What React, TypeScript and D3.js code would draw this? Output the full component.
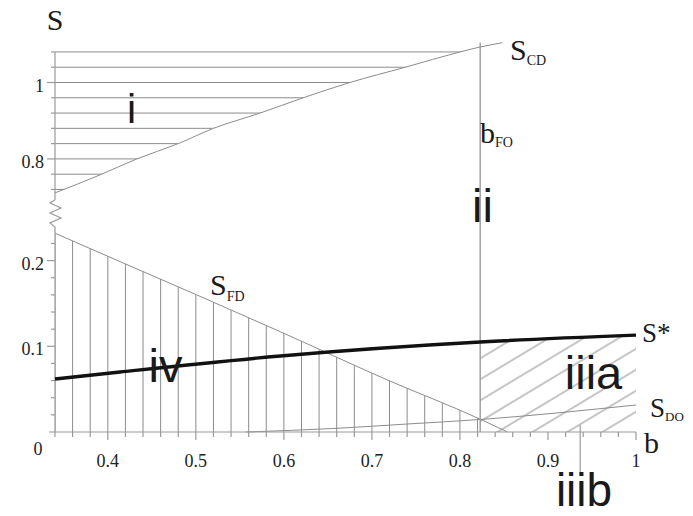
import * as d3 from "d3";
import { useEffect, useRef } from "react";

// boundary b_FO
const bFO = 0.823;

// S_CD curve (upper, broken scale)
const sCdB = [0.34, 0.391, 0.433, 0.48, 0.52, 0.573, 0.622, 0.675, 0.738, 0.8, 0.823, 0.848];
const sCdS = [0.711, 0.758, 0.8, 0.84, 0.88, 0.92, 0.96, 1.0, 1.04, 1.08, 1.093, 1.104];

// S_FD curve (lower scale)
const sFdB = [0.34, 0.4, 0.501, 0.596, 0.717, 0.823, 0.854];
const sFdS = [0.232, 0.205, 0.16, 0.117, 0.061, 0.015, 0];

// S* curve
const sStarB = [0.34, 0.414, 0.596, 0.823, 1.0];
const sStarS = [0.0618, 0.07, 0.0887, 0.105, 0.113];

// S_DO curve
const sDoB = [0.557, 0.66, 0.74, 0.823, 1.0];
const sDoS = [0, 0.0043, 0.0093, 0.0146, 0.0315];

// ticks
const xTickValues = [0.4, 0.5, 0.6, 0.7, 0.8, 0.9, 1];
const xTickLabels = ["0.4", "0.5", "0.6", "0.7", "0.8", "0.9", "1"];
const yLowTickValues = [0.1, 0.2];
const yLowTickLabels = ["0.1", "0.2"];
const yHighTickValues = [0.8, 1.0];
const yHighTickLabels = ["0.8", "1"];
const hatchLevels = [0.72, 0.76, 0.8, 0.84, 0.88, 0.92, 0.96, 1.0, 1.04, 1.08];
const iiibAt = 0.9366;

const width = 693;
const height = 516;

const App = () => {
  const svgRef = useRef<SVGSVGElement>(null);

  useEffect(() => {
    if (!svgRef.current) return;
    const svg = d3.select(svgRef.current);
    svg.selectAll("*").remove();

    const x = d3.scaleLinear([0.34, 1], [55, 636]);
    const yLow = d3.scaleLinear([0, 0.2], [432, 260.6]);
    const yHigh = d3.scaleLinear([0.8, 1.0], [158.9, 82.5]);

    const grey = "#8c8c8c";
    const serif = '"Liberation Serif", "Times New Roman", Times, serif';
    const sans = '"Liberation Sans", Arial, sans-serif';
    const line = d3.line().curve(d3.curveMonotoneX);

    const cdPts = sCdB.map((b, i) => [x(b), yHigh(sCdS[i])] as [number, number]);
    const fdPts = sFdB.map((b, i) => [x(b), yLow(sFdS[i])] as [number, number]);
    const starPts = sStarB.map((b, i) => [x(b), yLow(sStarS[i])] as [number, number]);
    const doPts = sDoB.map((b, i) => [x(b), yLow(sDoS[i])] as [number, number]);

    const defs = svg.append("defs");
    defs
      .append("clipPath")
      .attr("id", "clip-i")
      .append("path")
      .attr("d", line(cdPts) + `L${x(sCdB[sCdB.length - 1])},0L${x(0.34)},0Z`);
    defs
      .append("clipPath")
      .attr("id", "clip-iv")
      .append("path")
      .attr("d", line(fdPts) + `L${x(0.34)},${yLow(0)}Z`);
    const starRight = starPts.filter((p, i) => sStarB[i] >= bFO);
    defs
      .append("clipPath")
      .attr("id", "clip-iiia")
      .append("path")
      .attr("d", line(starRight) + `L${x(1)},${yLow(0)}L${x(bFO)},${yLow(0)}Z`);
    const pat = defs
      .append("pattern")
      .attr("id", "diag")
      .attr("patternUnits", "userSpaceOnUse")
      .attr("width", 30)
      .attr("height", 18)
      .attr("patternTransform", "translate(480,432) rotate(-31)");
    pat
      .append("line")
      .attr("x1", 0)
      .attr("x2", 30)
      .attr("y1", 9)
      .attr("y2", 9)
      .attr("stroke", grey)
      .attr("stroke-width", 1);

    // region i hatching
    svg
      .append("g")
      .attr("clip-path", "url(#clip-i)")
      .selectAll("line")
      .data(hatchLevels)
      .join("line")
      .attr("x1", x(0.34))
      .attr("x2", x(sCdB[sCdB.length - 1]))
      .attr("y1", (d) => yHigh(d))
      .attr("y2", (d) => yHigh(d))
      .attr("stroke", grey)
      .attr("stroke-width", 1);

    // region iv hatching
    const vLines = d3.range(0.34, bFO, 0.02);
    svg
      .append("g")
      .attr("clip-path", "url(#clip-iv)")
      .selectAll("line")
      .data(vLines)
      .join("line")
      .attr("x1", (d) => x(d))
      .attr("x2", (d) => x(d))
      .attr("y1", yLow(0))
      .attr("y2", 200)
      .attr("stroke", grey)
      .attr("stroke-width", 1);

    // region iiia hatching
    svg
      .append("rect")
      .attr("clip-path", "url(#clip-iiia)")
      .attr("x", x(bFO))
      .attr("y", 300)
      .attr("width", x(1) - x(bFO))
      .attr("height", 140)
      .attr("fill", "url(#diag)");

    // curves
    const curves = [cdPts, fdPts, doPts];
    svg
      .append("g")
      .selectAll("path")
      .data(curves)
      .join("path")
      .attr("d", (d) => line(d))
      .attr("fill", "none")
      .attr("stroke", grey)
      .attr("stroke-width", 1);

    // b_FO line
    svg
      .append("line")
      .attr("x1", x(bFO))
      .attr("x2", x(bFO))
      .attr("y1", yHigh(sCdS[sCdS.length - 1]))
      .attr("y2", yLow(0))
      .attr("stroke", "#9a9a9a")
      .attr("stroke-width", 1.4);

    // iiib marker
    svg
      .append("line")
      .attr("x1", x(iiibAt))
      .attr("x2", x(iiibAt))
      .attr("y1", 425)
      .attr("y2", 473)
      .attr("stroke", "#9a9a9a")
      .attr("stroke-width", 1.2);

    // axes
    const axis = svg.append("g").attr("stroke", "#9a9a9a").attr("stroke-width", 1.2);
    axis.append("line").attr("x1", 49).attr("x2", x(1)).attr("y1", yLow(0)).attr("y2", yLow(0));
    axis.append("line").attr("x1", 55).attr("x2", 55).attr("y1", yLow(0)).attr("y2", yLow(0.232));
    axis.append("line").attr("x1", 55).attr("x2", 55).attr("y1", yHigh(1.08)).attr("y2", 200);
    axis
      .append("polyline")
      .attr("fill", "none")
      .attr("points", "55,200 50,203 61,208 50,213 61,218 50,223 55,227 55,233");

    const xTicks = d3.range(0.34, 1.001, 0.02);
    axis
      .append("g")
      .selectAll("line")
      .data(xTicks)
      .join("line")
      .attr("x1", (d) => x(d))
      .attr("x2", (d) => x(d))
      .attr("y1", yLow(0))
      .attr("y2", (d) => yLow(0) + (xTickValues.some((v) => Math.abs(v - d) < 1e-6) ? 8 : 5));

    const yLowTicks = d3.range(0.02, 0.221, 0.02);
    axis
      .append("g")
      .selectAll("line")
      .data(yLowTicks)
      .join("line")
      .attr("x1", (d) => 55 - (yLowTickValues.some((v) => Math.abs(v - d) < 1e-6) ? 8 : 4))
      .attr("x2", 55)
      .attr("y1", (d) => yLow(d))
      .attr("y2", (d) => yLow(d));

    axis
      .append("g")
      .selectAll("line")
      .data(hatchLevels)
      .join("line")
      .attr("x1", (d) => 55 - (yHighTickValues.some((v) => Math.abs(v - d) < 1e-6) ? 8 : 4))
      .attr("x2", 55)
      .attr("y1", (d) => yHigh(d))
      .attr("y2", (d) => yHigh(d));

    // S* thick line
    svg
      .append("path")
      .attr("d", line(starPts))
      .attr("fill", "none")
      .attr("stroke", "#111")
      .attr("stroke-width", 3.4);

    // tick labels
    const lab = svg.append("g").style("font-family", serif).style("font-size", "18px").attr("fill", "#222");
    lab
      .selectAll("text.xl")
      .data(xTickValues)
      .join("text")
      .attr("class", "xl")
      .attr("x", (d) => x(d))
      .attr("y", 467)
      .attr("text-anchor", "middle")
      .text((d, i) => xTickLabels[i]);
    lab
      .selectAll("text.yl")
      .data(yLowTickValues)
      .join("text")
      .attr("class", "yl")
      .attr("x", 44)
      .attr("y", (d) => yLow(d) + 9)
      .attr("text-anchor", "end")
      .text((d, i) => yLowTickLabels[i]);
    lab
      .selectAll("text.yh")
      .data(yHighTickValues)
      .join("text")
      .attr("class", "yh")
      .attr("x", 44)
      .attr("y", (d) => yHigh(d) + 9)
      .attr("text-anchor", "end")
      .text((d, i) => yHighTickLabels[i]);
    lab.append("text").attr("x", 38).attr("y", 455).attr("text-anchor", "middle").text("0");

    // axis titles and curve names
    const names = svg.append("g").style("font-family", serif).attr("fill", "#1a1a1a");
    names.append("text").attr("x", 55).attr("y", 30).style("font-size", "30px").attr("text-anchor", "middle").text("S");
    names.append("text").attr("x", 644).attr("y", 453).style("font-size", "30px").text("b");

    const sub = (tx: number, ty: number, main: string, s: string, size: number, subSize: number, dy: number) => {
      const t = names.append("text").attr("x", tx).attr("y", ty).style("font-size", `${size}px`);
      t.append("tspan").text(main);
      t.append("tspan").style("font-size", `${subSize}px`).attr("dy", dy).text(s);
    };
    sub(510, 60, "S", "CD", 30, 14, 5);
    sub(480, 143, "b", "FO", 30, 14, 4);
    sub(210, 295, "S", "FD", 30, 14, 6);
    sub(650, 417, "S", "DO", 27, 13, 4);
    names.append("text").attr("x", 642).attr("y", 342).style("font-size", "27px").text("S*");

    // region labels
    const roman = svg.append("g").style("font-family", sans).attr("fill", "#1a1a1a").attr("text-anchor", "middle");
    roman.append("text").attr("x", 131.5).attr("y", 123).style("font-size", "41px").text("i");
    roman.append("text").attr("x", 482.5).attr("y", 222).style("font-size", "47px").text("ii");
    roman.append("text").attr("x", 165.5).attr("y", 382).style("font-size", "47px").text("iv");
    roman.append("text").attr("x", 593.5).attr("y", 389).style("font-size", "47px").text("iiia");
    roman.append("text").attr("x", 584).attr("y", 506).style("font-size", "46px").text("iiib");
  }, []);

  return (
    <svg
      ref={svgRef}
      width={width}
      height={height}
      style={{ position: "absolute", left: 0, top: 0, background: "white" }}
    ></svg>
  );
};

export default App;
